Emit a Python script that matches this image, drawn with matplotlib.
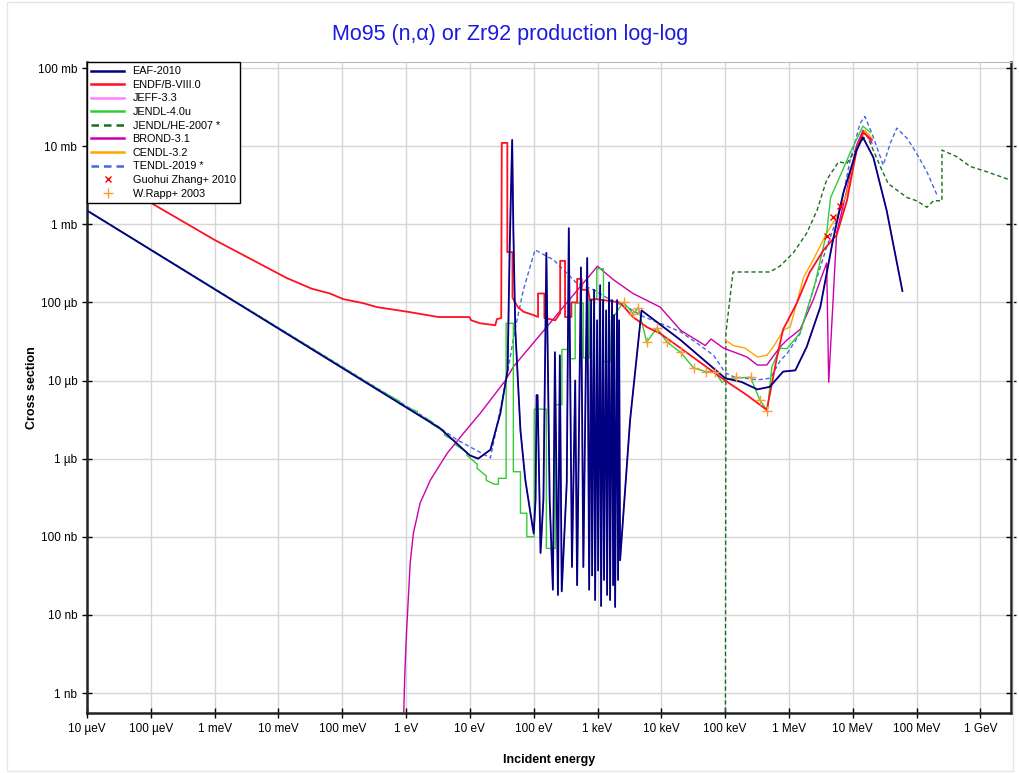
# Mo95 (n,alpha) cross section, log-log, several evaluations
import matplotlib
matplotlib.use("Agg")
import matplotlib.pyplot as plt
from matplotlib.patches import Rectangle

plt.rcParams['font.family'] = ['Liberation Sans', 'DejaVu Sans']

# energies in eV, cross sections in barn
eaf_e = [1e-5, 3.4, 10, 13.5, 21, 30, 39, 42, 46, 48, 51.5, 62, 74, 89, 100,
         107, 111, 115, 128, 142, 158, 178, 200, 215, 240, 257, 275, 330, 355,
         398, 447, 479, 550, 600, 690, 740, 794, 823, 885, 917, 986, 1023, 1100,
         1138, 1223, 1265, 1365, 1413, 1517, 1574, 1690, 1758, 1820, 1888, 2028,
         2100, 2180, 2260, 3240, 4900, 2.0e4, 1e5, 1.8e5, 3.2e5, 5.0e5, 8.1e5,
         1.26e6, 1.9e6, 3.1e6, 4.9e6, 7.1e6, 1.15e7, 1.44e7, 2.1e7, 3.4e7, 6.0e7]
eaf_s = [1.5e-3, 2.45e-6, 1.1e-6, 1.0e-6, 1.3e-6, 3.8e-6, 1.35e-5, 4.7e-4, 1.2e-2,
         8.5e-4, 4.5e-5, 2.3e-6, 5.3e-7, 2.0e-7, 1.1e-7,
         3.0e-7, 6.5e-6, 6.5e-6, 6.2e-8, 3.0e-7, 4.3e-4, 3.0e-7, 2.1e-8, 2.3e-5,
         1.8e-8, 2.1e-5, 2.0e-8, 5e-7, 8.9e-4,
         4.1e-8, 1.0e-5, 2.4e-8, 2.8e-4, 4.1e-8, 3.7e-4, 2.1e-8, 1.07e-4, 3.2e-8,
         1.45e-4, 1.55e-8, 5.9e-5, 3.7e-8, 1.66e-4,
         1.3e-8, 1.07e-4, 2.8e-8, 7.9e-5, 1.8e-8, 1.8e-4, 1.55e-8, 1.07e-4, 2.4e-8,
         6.9e-5, 1.26e-8, 1.07e-4,
         2.8e-8, 5.9e-5, 5.0e-8, 3.1e-6, 7.9e-5, 3.3e-5, 1.07e-5, 9.6e-6, 7.7e-6,
         8.3e-6, 1.3e-5,
         1.35e-5, 2.7e-5, 8.7e-5, 6.3e-4, 2.5e-3, 8.9e-3, 1.3e-2, 7.2e-3, 1.5e-3,
         1.4e-4]

endf_e = [1e-5, 9.8e-5, 1e-3, 1.35e-2, 3.3e-2, 6.4e-2, 0.104, 0.21, 0.35, 1.04,
          3.2, 9.8, 10.5, 14.5, 25, 26.5, 31, 31.6, 38.6, 38.6, 46.5, 46.5, 56.5,
          69, 98, 117, 117, 147, 147, 218, 260, 260, 310, 310, 390, 390, 480, 480,
          565, 565, 710, 760, 975, 2240, 3600, 6000, 9600, 2.0e4, 1e5, 2.2e5,
          4.5e5, 6.5e5, 8.1e5, 1.33e6, 2.1e6, 3.5e6, 5.6e6, 8.1e6, 1.15e7,
          1.45e7, 2.0e7]
endf_s = [5.8e-3, 1.9e-3, 6.3e-4, 2.05e-4, 1.5e-4, 1.3e-4, 1.1e-4, 9.8e-5, 8.7e-5,
          7.6e-5, 6.5e-5, 6.5e-5, 5.9e-5, 5.4e-5, 5.1e-5, 6.1e-5, 6.3e-5, 1.1e-2,
          1.1e-2, 4.4e-4, 4.4e-4, 1.15e-4, 8.7e-5,
          7.6e-5, 6.9e-5, 6.5e-5, 1.3e-4, 1.3e-4, 6.3e-5, 5.9e-5, 7.3e-5, 3.4e-4,
          3.4e-4, 6.5e-5, 6.5e-5, 1.0e-4, 1.0e-4, 2.0e-4,
          2.0e-4, 1.45e-4, 1.45e-4, 1.07e-4, 1.1e-4, 1.0e-4, 6.5e-5, 4.8e-5,
          4.0e-5, 2.6e-5, 1.0e-5, 6.5e-6,
          4.2e-6, 2.0e-5, 4.5e-5, 9.8e-5, 2.4e-4, 4.7e-4, 7.3e-4, 2.0e-3, 8.9e-3,
          1.5e-2, 1.2e-2]

jendl_e = [1e-5, 0.39, 0.8, 0.8, 1.5, 1.5, 2.5, 2.5, 4, 4, 6, 6, 9, 9, 13, 13,
           18, 18, 24, 28, 28, 37, 37, 48, 48, 62, 62, 78, 78, 102, 102, 158,
           158, 218, 218, 277, 277, 372, 372, 447, 447, 600, 600, 745, 745, 975,
           975, 1240, 1240, 1590, 1650, 2240, 2560, 3600, 4370, 5900, 8500,
           1.23e4, 2.0e4, 3.2e4, 5.0e4, 6.9e4, 8.9e4, 1.26e5, 2.5e5, 3.5e5,
           4.6e5, 5.4e5, 7.3e5, 9.3e5, 1.5e6, 2.5e6, 3.9e6, 4.5e6, 6.3e6, 9.1e6,
           1.44e7, 1.9e7]
jendl_s = [1.5e-3, 7.5e-6, 5.4e-6, 5.0e-6, 4.0e-6, 3.7e-6, 3.0e-6, 2.8e-6, 2.2e-6,
           2.0e-6, 1.65e-6, 1.5e-6, 1.2e-6, 1.1e-6, 8.5e-7, 7.5e-7,
           6.0e-7, 5.3e-7, 4.7e-7, 4.7e-7, 5.6e-7, 5.6e-7, 5.4e-5, 5.4e-5, 6.8e-7,
           6.8e-7, 2.0e-7, 2.0e-7, 1.0e-7, 1.0e-7, 4.3e-6, 4.3e-6,
           7.1e-8, 7.1e-8, 4.9e-6, 4.9e-6, 2.5e-5, 2.5e-5, 1.9e-5, 1.9e-5, 9.8e-5,
           9.8e-5, 1.95e-5, 1.95e-5, 1.1e-4, 1.1e-4,
           2.7e-4, 2.7e-4, 1.75e-5, 1.75e-5, 5.9e-5, 8.7e-5, 1.0e-4, 7.2e-5,
           8.5e-5, 3.1e-5, 4.7e-5,
           3.1e-5, 2.3e-5, 1.45e-5, 1.3e-5, 1.3e-5, 9.5e-6, 1.07e-5, 1.1e-5,
           5.6e-6,
           4.1e-6, 1.5e-5, 2.6e-5, 2.55e-5, 4.1e-5, 1.6e-4, 7.8e-4, 2.2e-3,
           4.1e-3, 8.2e-3,
           1.8e-2, 1.5e-2]

jendlhe_e = [1e5, 1.03e5, 1.33e5, 5.0e5, 7.2e5, 1.17e6, 1.9e6, 2.75e6, 3.9e6,
             6.0e6, 8.1e6, 1.3e7, 1.65e7, 2.7e7, 3.6e7, 7.1e7, 1.0e8, 1.45e8,
             1.85e8, 2.5e8, 2.5e8, 4.3e8, 6.9e8, 1.26e9, 2.9e9]
jendlhe_s = [1e-12, 4.1e-5, 2.45e-4, 2.45e-4, 2.9e-4, 4.3e-4, 7.7e-4, 1.5e-3,
             3.7e-3, 6.3e-3, 6.0e-3, 1.1e-2, 1.4e-2, 5.5e-3, 3.3e-3, 2.2e-3,
             2.0e-3, 1.65e-3, 2.0e-3, 2.0e-3, 8.9e-3, 7.3e-3, 5.5e-3, 4.7e-3,
             3.7e-3]

brond_e = [0.89, 0.91, 0.95, 0.98, 1.02, 1.16, 1.30, 1.66, 2.4, 4.4, 7.9, 14.5,
           36, 48, 162, 540, 1000, 1780, 3600, 9600, 2.0e4, 4.9e4, 6.0e4, 9.4e4,
           2.2e5, 3.2e5, 4.5e5, 7.3e5, 9.3e5, 1.5e6, 2.4e6, 3.9e6, 4.2e6, 5.6e6,
           8.1e6, 1.15e7, 1.45e7, 2.0e7]
brond_s = [1e-11, 4e-10, 1.5e-9, 3.0e-9, 6.3e-9, 4.6e-8, 1.1e-7, 2.7e-7, 5.3e-7,
           1.17e-6, 2.1e-6, 3.8e-6, 1.0e-5, 1.5e-5, 4.9e-5,
           1.6e-4, 2.9e-4, 1.95e-4, 1.3e-4, 8.7e-5, 4.4e-5, 2.8e-5, 3.4e-5,
           2.6e-5, 2.0e-5, 1.58e-5,
           1.58e-5, 2.7e-5, 3.3e-5, 4.5e-5, 1.07e-4, 3.2e-4, 9.5e-6, 7.8e-4,
           2.75e-3, 1.03e-2, 1.6e-2, 1.1e-2]

cendl_e = [1e5, 1.35e5, 2.05e5, 3.2e5, 4.5e5, 5.7e5, 8.2e5, 1.05e6, 1.7e6, 2.4e6,
           3.9e6, 5.6e6, 8.1e6, 1.15e7, 1.55e7, 2.0e7]
cendl_s = [3.3e-5, 2.8e-5, 2.6e-5, 2.0e-5, 2.1e-5, 2.7e-5, 4.4e-5, 4.9e-5, 2.1e-4,
           3.5e-4, 7.7e-4, 1.25e-3, 2.5e-3, 8.9e-3, 1.6e-2, 1.26e-2]

tendl_e = [1e-5, 2.0, 6.3, 21, 37, 51, 69, 105, 205, 480, 870, 1780, 2900, 5200,
           9600, 2.0e4, 4.1e4, 6.6e4, 1e5, 1.35e5, 3.2e5, 5.1e5, 7.3e5, 9.3e5,
           1.5e6, 2.4e6, 3.9e6, 6.3e6, 9.1e6, 1.3e7, 1.55e7, 2.0e7, 2.7e7, 3.0e7,
           3.9e7, 4.9e7, 7.1e7, 1.0e8, 1.45e8, 2.1e8]
tendl_s = [1.5e-3, 3.35e-6, 1.74e-6, 1.02e-6, 1.0e-5, 4.5e-5, 1.45e-4, 4.7e-4,
           3.5e-4, 1.74e-4, 1.45e-4, 1.02e-4, 8.7e-5, 6.6e-5,
           5.4e-5, 4.2e-5, 2.8e-5, 2.1e-5, 1.26e-5, 1.12e-5, 1.02e-5, 1.07e-5,
           1.8e-5, 2.2e-5,
           4.0e-5, 1.45e-4, 5.1e-4, 1.5e-3, 6.6e-3, 1.95e-2, 2.4e-2, 1.45e-2,
           7.3e-3, 5.7e-3,
           1.1e-2, 1.7e-2, 1.26e-2, 8.1e-3, 4.7e-3, 2.35e-3]

zhang_e = [3.9e6, 4.9e6, 6.2e6]
zhang_s = [7.1e-4, 1.23e-3, 1.7e-3]

rapp_e = [2560, 3600, 4370, 5900, 8500, 1.23e4, 2.0e4, 3.2e4, 5.0e4, 6.9e4,
          1.5e5, 2.5e5, 3.5e5, 4.6e5]
rapp_s = [1.0e-4, 7.2e-5, 8.5e-5, 3.1e-5, 4.7e-5, 3.1e-5, 2.3e-5, 1.45e-5,
          1.3e-5, 1.3e-5, 1.12e-5, 1.1e-5, 5.6e-6, 4.1e-6]

xticks = [1e-5, 1e-4, 1e-3, 1e-2, 1e-1, 1, 10, 100, 1e3, 1e4, 1e5, 1e6, 1e7, 1e8, 1e9]
xlabels = ["10 µeV", "100 µeV", "1 meV", "10 meV", "100 meV", "1 eV", "10 eV",
           "100 eV", "1 keV", "10 keV", "100 keV", "1 MeV", "10 MeV", "100 MeV", "1 GeV"]
yticks = [1e-9, 1e-8, 1e-7, 1e-6, 1e-5, 1e-4, 1e-3, 1e-2, 1e-1]
ylabels = ["1 nb", "10 nb", "100 nb", "1 µb", "10 µb", "100 µb", "1 mb", "10 mb", "100 mb"]

fig = plt.figure(figsize=(10.2, 7.73), dpi=100)
fig.patches.append(Rectangle((0.007, 0.003), 0.986, 0.994, transform=fig.transFigure,
                             fill=False, edgecolor='#e6e6e6', lw=1))
ax = fig.add_axes([0.0853, 0.0776, 0.9057, 0.8422])

ax.plot(eaf_e, eaf_s, color='#000080', lw=1.3, label='EAF-2010', zorder=9)
ax.plot(endf_e, endf_s, color='#ff1020', lw=1.3, label='ENDF/B-VIII.0', zorder=8)
# JEFF-3.3 is not visible in the reference: it lies under the EAF curve
ax.plot(eaf_e, eaf_s, color='#ff80ff', lw=1.0, label='JEFF-3.3', zorder=1)
ax.plot(jendl_e, jendl_s, color='#33cc33', lw=1.0, label='JENDL-4.0u', zorder=6)
ax.plot(jendlhe_e, jendlhe_s, color='#1a6e1a', lw=1.0, ls=(0, (3, 2)),
        label='JENDL/HE-2007 *', zorder=4)
ax.plot(brond_e, brond_s, color='#cc00aa', lw=1.0, label='BROND-3.1', zorder=5)
ax.plot(cendl_e, cendl_s, color='#ffa500', lw=1.0, label='CENDL-3.2', zorder=5)
ax.plot(tendl_e, tendl_s, color='#4169e1', lw=1.0, ls=(0, (3, 2)),
        label='TENDL-2019 *', zorder=3)
ax.plot(zhang_e, zhang_s, 'x', color='red', ms=5, mew=1, ls='none',
        label='Guohui Zhang+ 2010', zorder=10)
ax.plot(rapp_e, rapp_s, '+', color='#ff9933', ms=7, mew=1, ls='none',
        label='W.Rapp+ 2003', zorder=10)

ax.set_xscale('log')
ax.set_yscale('log')
ax.set_xlim(1e-5, 3.0e9)
ax.set_ylim(10**-9.256, 10**-0.923)
ax.set_xticks(xticks)
ax.set_xticklabels(xlabels)
ax.set_yticks(yticks)
ax.set_yticklabels(ylabels)
ax.minorticks_off()
ax.tick_params(direction='inout', length=7, width=1, labelsize=8.5, color='black')
ax.tick_params(right=True, top=False)
ax.grid(True, color='#d6d6d6', lw=1)
ax.set_axisbelow(True)
for s in ['left', 'bottom', 'right']:
    ax.spines[s].set_linewidth(1.8)
    ax.spines[s].set_color('#222222')
ax.spines['top'].set_color('#bbbbbb')

ax.set_xlabel('Incident energy', fontsize=9, fontweight='bold', labelpad=14)
ax.set_ylabel('Cross section', fontsize=9, fontweight='bold', labelpad=0)
fig.text(0.5, 0.955, 'Mo95 (n,α) or Zr92 production log-log', ha='center',
         va='center', fontsize=15.5, color='#1a1ae0')

leg = ax.legend(loc='upper left', borderaxespad=0, fontsize=7.8, handlelength=3.0,
                labelspacing=0.33, fancybox=False, framealpha=1, edgecolor='black')
leg.get_frame().set_linewidth(1)
leg.set_zorder(20)
for h in leg.get_lines():
    if h.get_linestyle() != 'None':
        h.set_linewidth(1.8)

fig.savefig('out.png', dpi=100)
